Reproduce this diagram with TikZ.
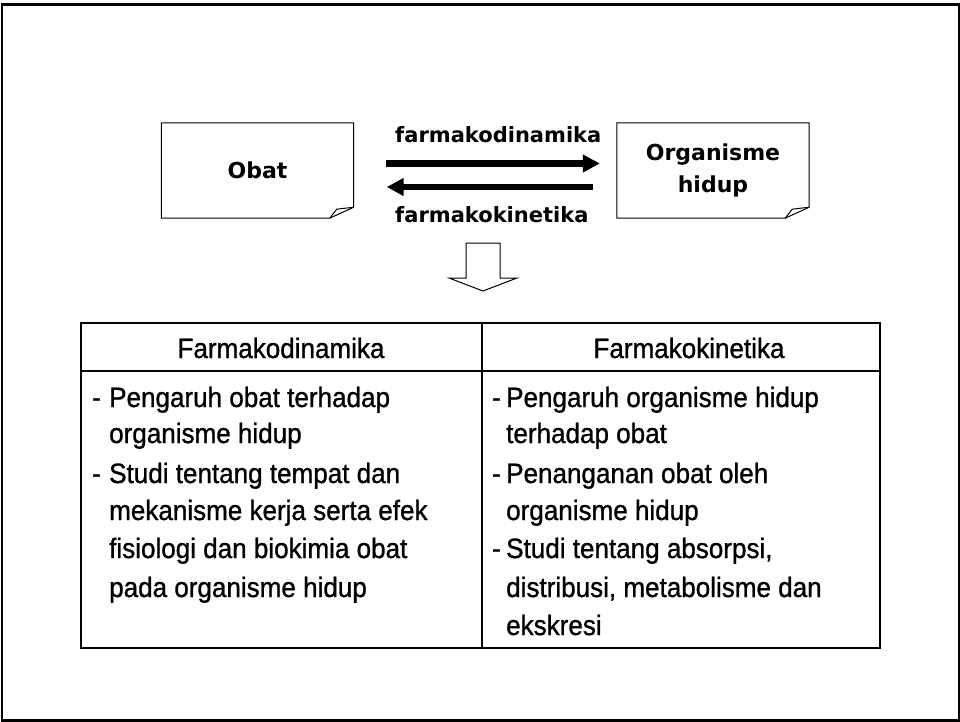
\documentclass[tikz,border=0pt]{standalone}
\usepackage{fontspec}
\setmainfont{Liberation Sans}
\newfontfamily\labelfont{DejaVu Sans}
\newfontfamily\cellfont{Liberation Sans}[FakeBold=1, FakeStretch=0.93]
\usetikzlibrary{arrows.meta}
\begin{document}
\begin{tikzpicture}[x=1pt,y=-1pt,
  boxlabel/.style={font=\labelfont\bfseries\fontsize{22pt}{32pt}\selectfont,
    align=center, minimum width=192pt, minimum height=95pt, inner sep=0pt},
  flowlabel/.style={font=\labelfont\bfseries\fontsize{21pt}{25pt}\selectfont,
    anchor=base west, inner sep=0pt},
  flow/.style={line width=6.5pt, -{Triangle[length=17pt,width=17pt]}},
  cell/.style={font=\cellfont\fontsize{28pt}{30pt}\selectfont, inner sep=0pt},
  bodytext/.style={cell, anchor=base west},
  fold/.style={line width=1pt, line join=miter},
  rule/.style={line width=2pt}
]
\useasboundingbox (0,0) rectangle (960,722);
% page frame
\draw[line width=2.5pt] (2,4.5) rectangle (959,720.5);

% the two boxes with folded corners
\node[boxlabel] (obat) at (257.5,170.5) {Obat};
\node[boxlabel] (org) at (713,170.5) {Organisme\\hidup};
\foreach \b in {obat,org}{
  \draw[fold] (\b.north west) -- (\b.north east) -- ([yshift=11pt]\b.south east)
    -- ([xshift=-24pt]\b.south east) -- (\b.south west) -- cycle;
  \draw[fold] ([xshift=-24pt]\b.south east) -- ([xshift=-17pt,yshift=9pt]\b.south east)
    -- ([yshift=11pt]\b.south east);
}

% the two processes between them
\draw[flow] ([xshift=32pt,yshift=7pt]obat.east) -- ([xshift=-17pt,yshift=7pt]org.west);
\draw[flow] ([xshift=-24pt,yshift=-16.5pt]org.west) -- ([xshift=33pt,yshift=-16.5pt]obat.east);
\node[flowlabel] (fd) at (395,143) {farmakodinamika};
\node[flowlabel] (fk) at (395,222) {farmakokinetika};

% hollow block arrow pointing down to the table
\draw[line width=1pt, line join=miter] (466,243) -- (500,243) -- (500,278) -- (517,278)
  -- (483,291) -- (449,278) -- (466,278) -- cycle;

% table
\draw[rule] (81,323) rectangle (880,648);
\draw[rule] (81,371) -- (880,371);
\draw[rule] (482,323) -- (482,648);
\node[cell, anchor=base] (h1) at (281,358) {Farmakodinamika};
\node[cell, anchor=base] (h2) at (689,358) {Farmakokinetika};

% left column
\node[bodytext] (ld1) at (92,407) {-};
\node[bodytext] (l1) at (109,407) {Pengaruh obat terhadap};
\node[bodytext] (l2) at (109,443) {organisme hidup};
\node[bodytext] (ld2) at (92,483) {-};
\node[bodytext] (l3) at (109,483) {Studi tentang tempat dan};
\node[bodytext] (l4) at (109,520) {mekanisme kerja serta efek};
\node[bodytext] (l5) at (109,558) {fisiologi dan biokimia obat};
\node[bodytext] (l6) at (109,597) {pada organisme hidup};

% right column
\node[bodytext] (rd1) at (492,407) {-};
\node[bodytext] (r1) at (506,407) {Pengaruh organisme hidup};
\node[bodytext] (r2) at (506,443) {terhadap obat};
\node[bodytext] (rd2) at (492,483) {-};
\node[bodytext] (r3) at (506,483) {Penanganan obat oleh};
\node[bodytext] (r4) at (506,520) {organisme hidup};
\node[bodytext] (rd3) at (492,558) {-};
\node[bodytext] (r5) at (506,558) {Studi tentang absorpsi,};
\node[bodytext] (r6) at (506,597) {distribusi, metabolisme dan};
\node[bodytext] (r7) at (506,635) {ekskresi};
\end{tikzpicture}
\end{document}
